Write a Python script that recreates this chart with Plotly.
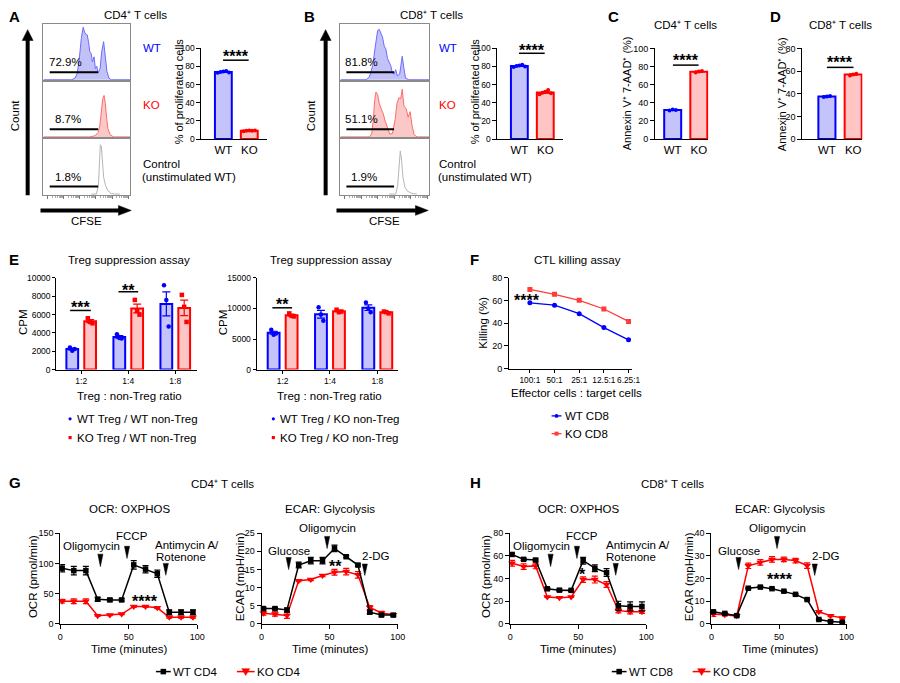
import math
import numpy as np
import plotly.graph_objects as go

W, H = 900, 683
FONT = "Liberation Sans, Arial, Helvetica, sans-serif"

# ======================= DATA =======================
# A / B : CFSE dilution histograms (x across CFSE axis 0-100, relative count)
a_wt_x = [0, 32.6, 36.4, 39, 41.3, 43.6, 45.8, 47.3, 48.9, 50.4, 51.9, 53.4, 54.9, 56.4, 58.3, 59.8,
          61.4, 62.9, 65.2, 67.1, 69.3, 71.2, 73.1, 75.4, 78, 100]
a_wt_h = [0, 0, 0.03, 0.12, 0.38, 0.74, 0.94, 0.85, 0.81, 0.8, 0.68, 0.5, 0.47, 0.32, 0.41, 0.2,
          0.24, 0.12, 0.2, 0.5, 0.68, 0.44, 0.15, 0.03, 0, 0]
a_ko_x = [0, 53.4, 59.2, 63, 64.9, 66.8, 68.3, 69.8, 71.2, 72.7, 74.2, 76.8, 80.6, 100]
a_ko_h = [0, 0, 0.02, 0.08, 0.2, 0.45, 0.68, 0.74, 0.6, 0.35, 0.15, 0.04, 0, 0]
a_ctrl_x = [55, 61, 63.3, 64.4, 65.5, 66.7, 67.8, 69.3, 71.6, 74.2, 78, 82, 88]
a_ctrl_h = [0, 0, 0.15, 0.5, 0.88, 0.85, 0.55, 0.3, 0.15, 0.06, 0.01, 0, 0]

b_wt_x = [0, 28.9, 32.6, 36.3, 39.3, 41.9, 43.7, 45.6, 47.4, 49.3, 51.1, 53, 54.8, 56.7, 58.5, 60.4,
          62.2, 64.1, 66.7, 69.6, 71.5, 73.3, 77, 100]
b_wt_h = [0, 0, 0.05, 0.25, 0.6, 0.88, 0.9, 0.82, 0.76, 0.6, 0.55, 0.38, 0.3, 0.25, 0.12, 0.1,
          0.18, 0.07, 0.1, 0.42, 0.2, 0.03, 0, 0]
b_ko_x = [0, 32.6, 35.2, 37, 38.5, 40, 41.9, 43.7, 45.9, 48.1, 50.4, 53, 55.6, 58.5, 61.5, 63.7,
          65.9, 67.8, 69.6, 71.5, 74.1, 76.3, 78.5, 80.7, 83, 86.3, 100]
b_ko_h = [0, 0, 0.05, 0.3, 0.65, 0.8, 0.75, 0.6, 0.5, 0.42, 0.28, 0.15, 0.05, 0.06, 0.3, 0.6,
          0.7, 0.68, 0.85, 0.55, 0.5, 0.35, 0.45, 0.2, 0.04, 0, 0]
b_ctrl_x = [55, 62.2, 64.4, 65.9, 67.4, 68.9, 70.4, 72.6, 75.6, 80.7, 86]
b_ctrl_h = [0, 0, 0.15, 0.55, 0.77, 0.6, 0.3, 0.12, 0.05, 0.01, 0]

a_pct = ["72.9%", "8.7%", "1.8%"]
b_pct = ["81.8%", "51.1%", "1.9%"]
hist_rows = ["WT", "KO", "Control", "(unstimulated WT)"]

# A / B : % of proliferated cells
genotypes = ["WT", "KO"]
a_prolif_wt = [73.0, 74.0, 74.5, 75.0, 73.5]
a_prolif_ko = [8.5, 9.0, 9.5, 9.0, 9.5]
b_prolif_wt = [79.5, 80.5, 81.0, 82.0, 80.0]
b_prolif_ko = [49.5, 51.0, 52.0, 54.0, 50.5]

# C / D : Annexin V+ 7-AAD+ (%)
c_annexin_wt = [31.5, 32.5, 32.0]
c_annexin_ko = [73.5, 74.5, 75.0]
d_annexin_wt = [37.0, 37.5, 38.0]
d_annexin_ko = [56.0, 57.0, 57.5]

# E : Treg suppression assay (CPM replicates per ratio)
treg_ratios = ["1:2", "1:4", "1:8"]
e1_wt = [[2400, 2050, 2250], [3850, 3450, 3400], [9200, 7600, 4700]]
e1_ko = [[5600, 5200, 5050], [7600, 6400, 6000], [8150, 6850, 5200]]
e2_wt = [[6500, 5700, 5900], [10200, 9000, 8000], [11000, 10000, 9400]]
e2_ko = [[9200, 8800, 8700], [9800, 9400, 9500], [9500, 9400, 9200]]

# F : CTL killing assay
ctl_ratios = ["100:1", "50:1", "25:1", "12.5:1", "6.25:1"]
ctl_wt = [58.0, 56.0, 48.5, 36.2, 25.4]
ctl_ko = [69.9, 65.6, 60.3, 52.6, 41.6]

# G / H : Seahorse
seahorse_time = [1.4, 9.9, 18.7, 27.3, 36.2, 44.8, 53.6, 62.2, 70.8, 79.5, 88.1, 96.8]
g_ocr_wt = [92, 88, 88, 40.6, 39.5, 39.5, 97.5, 90.4, 82.9, 19, 19, 19]
g_ocr_wt_err = [6, 7, 7, 3, 2, 2, 7, 6, 6, 4, 4, 4]
g_ocr_ko = [37.4, 37.4, 37.4, 13.5, 14.6, 16.2, 28.7, 28.7, 26.5, 10.8, 10.8, 10.8]
g_ocr_ko_err = [3, 4, 4, 1, 1, 1, 1.5, 1.5, 1.5, 1.5, 1.5, 1.5]
g_ecar_wt = [4.2, 4.2, 3.8, 16.2, 17.4, 17.4, 20.8, 18.5, 16.2, 3.2, 2.4, 2.4]
g_ecar_wt_err = [0.3, 0.3, 0.5, 0.8, 0.9, 0.9, 0.9, 0.3, 0.3, 0.4, 0.3, 0.3]
g_ecar_ko = [2.9, 2.7, 2.3, 11.9, 12.2, 13.3, 14.2, 14.4, 13.5, 4.5, 3.0, 2.5]
g_ecar_ko_err = [0.5, 0.6, 0.8, 0.3, 0.3, 0.3, 0.8, 0.9, 0.9, 0.5, 0.4, 0.3]
h_ocr_wt = [61.2, 56.9, 56.3, 30.9, 29.7, 29.5, 55.7, 49.1, 45.3, 15.9, 15.3, 15.3]
h_ocr_wt_err = [1, 1, 1, 1, 1, 1, 3, 3, 3.5, 4, 4, 4]
h_ocr_ko = [53.4, 50.5, 51.1, 23.7, 23.1, 23.7, 39.0, 39.0, 34.7, 11.6, 10.7, 10.7]
h_ocr_ko_err = [2.5, 2.5, 2.5, 0.5, 0.5, 0.5, 2.5, 3, 2.5, 2, 2, 1.5]
h_ecar_wt = [5.3, 4.6, 3.6, 15.7, 16.2, 15.5, 14.4, 13.0, 10.7, 1.9, 1.0, 0.7]
h_ecar_wt_err = [0.3, 0.3, 0.3, 0.3, 0.3, 0.3, 0.3, 0.3, 0.3, 0.3, 0.3, 0.3]
h_ecar_ko = [4.3, 4.0, 3.5, 25.6, 27.1, 28.4, 28.4, 27.9, 25.7, 5.3, 3.6, 2.6]
h_ecar_ko_err = [1.0, 0.5, 0.5, 1.2, 1.2, 1.2, 1.0, 1.0, 1.2, 0.4, 0.4, 0.4]

# ======================= STYLE =======================
BLUE, RED, BLACK = "#0000ff", "#ff0000", "#000000"
BLUE_FILL, RED_FILL = "#c4c4fa", "#ffc4c4"
H_BLUE_LINE, H_BLUE_FILL = "#6b6bff", "rgba(110,110,240,0.42)"
H_RED_LINE, H_RED_FILL = "#ff6b6b", "rgba(245,110,110,0.38)"
CTRL_LINE = "#b5b5b5"

layout = dict(width=W, height=H, margin=dict(l=0, r=0, t=0, b=0), autosize=False,
              paper_bgcolor="white", plot_bgcolor="white", showlegend=False,
              barmode="overlay", font=dict(family=FONT, size=11, color="black"))
traces, shapes, annotations = [], [], []
n_ax = [0]

# approximate Arial / Liberation Sans advance widths (1/1000 em) used to left-align texts
CW = {" ": 278, "%": 889, "(": 333, ")": 333, "-": 333, ".": 278, "/": 278, ":": 278,
      "A": 667, "C": 722, "D": 722, "K": 667, "O": 778, "R": 722, "T": 611, "W": 944,
      "a": 556, "b": 556, "c": 500, "d": 556, "e": 556, "g": 556, "h": 556, "i": 222, "l": 222,
      "m": 833, "n": 556, "o": 556, "p": 556, "r": 333, "s": 500, "t": 278, "u": 556, "y": 500}


def text_width(t, size):
    return sum(CW.get(ch, 556) for ch in t) * size / 1000.0


def add_axes(x0, x1, ytop, ybot, xopt, yopt):
    n_ax[0] += 1
    s = "" if n_ax[0] == 1 else str(n_ax[0])
    layout["xaxis" + s] = dict(domain=[x0 / W, x1 / W], anchor="y" + s, **xopt)
    layout["yaxis" + s] = dict(domain=[1 - ybot / H, 1 - ytop / H], anchor="x" + s, **yopt)
    return "x" + s, "y" + s


def ax_style(**kw):
    d = dict(type="linear", showline=True, linecolor="black", linewidth=1, ticks="outside", ticklen=4,
             tickwidth=1, tickcolor="black", showgrid=False, zeroline=False, fixedrange=True,
             tickfont=dict(family=FONT, size=9, color="black"))
    d.update(kw)
    return d


def text(t, x, y, size=11.5, anchor="center", color="black", angle=0, bold=False):
    if anchor == "left":
        x = x + text_width(t, size) / 2.0
    annotations.append(dict(text=("<b>%s</b>" % t) if bold else t, x=x / W, y=1 - y / H,
                            xref="paper", yref="paper", xanchor="center", yanchor="middle",
                            showarrow=False, textangle=angle,
                            font=dict(family=FONT, size=size, color=color)))


def stars(t, x, y, size=16):
    text(t, x, y + 3.5, size=size, bold=True)


def pline(x0, y0, x1, y1, width=1.5, color="black"):
    shapes.append(dict(type="line", xref="paper", yref="paper", x0=x0 / W, y0=1 - y0 / H,
                       x1=x1 / W, y1=1 - y1 / H, line=dict(color=color, width=width)))


def ppath(points, color="black"):
    d = "M " + " L ".join("%.5f,%.5f" % (px / W, 1 - py / H) for px, py in points) + " Z"
    shapes.append(dict(type="path", xref="paper", yref="paper", path=d, fillcolor=color,
                       line=dict(color=color, width=0.5)))


def prect(cx, cy, r, color):
    shapes.append(dict(type="rect", xref="paper", yref="paper", x0=(cx - r) / W, x1=(cx + r) / W,
                       y0=1 - (cy + r) / H, y1=1 - (cy - r) / H, fillcolor=color, line=dict(width=0)))


def pcircle(cx, cy, r, color):
    shapes.append(dict(type="circle", xref="paper", yref="paper", x0=(cx - r) / W, x1=(cx + r) / W,
                       y0=1 - (cy + r) / H, y1=1 - (cy - r) / H, fillcolor=color, line=dict(width=0)))


def wedge(x, top, tip, half=2.6):
    ppath([(x - half, top), (x + half, top), (x, tip)])


# ---------------- histogram panels (A, B) ----------------
major = [5, 23.5, 42, 60.5, 79, 97.5]
minor = [m + 18.5 * math.log10(k) for m in major[:-1] for k in range(2, 10)]


def hist_block(x0, x1, xs_list, hs_list, lines, fills, pcts, pct_x, gate_x):
    tops = [19, 77, 135]
    for i in range(3):
        top, bot = tops[i], tops[i] + 58
        xo = dict(type="linear", range=[0, 100], showline=True, mirror=True, linecolor="#8a8a8a",
                  linewidth=1, showgrid=False, zeroline=False, showticklabels=False, fixedrange=True)
        if i == 2:
            xo.update(ticks="outside", tickmode="array", tickvals=major, ticklen=3, tickcolor="#777",
                      tickwidth=1, minor=dict(ticks="outside", tickmode="array", tickvals=minor,
                                              ticklen=1.5, tickcolor="#aaa", tickwidth=1))
        else:
            xo.update(ticks="")
        yo = dict(type="linear", range=[-0.02, 1.0], showline=True, mirror=True, linecolor="#8a8a8a",
                  linewidth=1, showgrid=False, zeroline=False, showticklabels=False, ticks="",
                  fixedrange=True)
        xr, yr = add_axes(x0, x1, top, bot, xo, yo)
        traces.append(go.Scatter(x=xs_list[i], y=hs_list[i], xaxis=xr, yaxis=yr, mode="lines",
                                 line=dict(color=lines[i], width=1),
                                 fill="tozeroy" if fills[i] else None, fillcolor=fills[i],
                                 hoverinfo="skip"))
        shapes.append(dict(type="line", xref=xr, yref=yr, x0=gate_x[0], x1=gate_x[1], y0=0.135,
                           y1=0.135, line=dict(color="black", width=2)))
        px_left = x0 + pct_x[i] / 100.0 * (x1 - x0)
        text(pcts[i], px_left, top + 58 * (1 - 0.325), anchor="left")


hist_block(41, 129, [a_wt_x, a_ko_x, a_ctrl_x], [a_wt_h, a_ko_h, a_ctrl_h],
           [H_BLUE_LINE, H_RED_LINE, CTRL_LINE], [H_BLUE_FILL, H_RED_FILL, None],
           a_pct, [7, 13.6, 13.6], [7.2, 63])
hist_block(342, 432, [b_wt_x, b_ko_x, b_ctrl_x], [b_wt_h, b_ko_h, b_ctrl_h],
           [H_BLUE_LINE, H_RED_LINE, CTRL_LINE], [H_BLUE_FILL, H_RED_FILL, None],
           b_pct, [6, 6, 12.2], [6.7, 60.4])

# ---------------- bar + dots panels ----------------
JIT = {3: [-0.12, 0, 0.12], 5: [-0.22, -0.11, 0, 0.11, 0.22]}


def bar_panel(x0, x1, ytop, ybot, xrange, yrange, dtick, reps, yfont=8.5, width=0.65):
    xr, yr = add_axes(x0, x1, ytop, ybot,
                      ax_style(range=xrange, tickmode="array", tickvals=[0, 1], ticktext=genotypes,
                               ticks="", tickfont=dict(family=FONT, size=11.5, color="black")),
                      ax_style(range=yrange, dtick=dtick, tickfont=dict(family=FONT, size=yfont, color="black")))
    for i, vals in enumerate(reps):
        line = BLUE if i == 0 else RED
        fill = BLUE_FILL if i == 0 else RED_FILL
        m = float(np.mean(vals))
        se = float(np.std(vals, ddof=1) / np.sqrt(len(vals)))
        traces.append(go.Bar(x=[i], y=[m], width=width, xaxis=xr, yaxis=yr,
                             marker=dict(color=fill, line=dict(color=line, width=2)),
                             error_y=dict(type="data", array=[se], color=line, thickness=1.5, width=4),
                             hoverinfo="skip"))
        traces.append(go.Scatter(x=[i + o for o in JIT[len(vals)]], y=vals, xaxis=xr, yaxis=yr,
                                 mode="markers", marker=dict(color=line, size=4), cliponaxis=False,
                                 hoverinfo="skip"))
    return xr, yr


bar_panel(201, 268, 44, 136, [-0.85, 1.7], [0, 100], 20, [a_prolif_wt, a_prolif_ko])
bar_panel(501, 568, 44, 136, [-0.85, 1.7], [0, 100], 20, [b_prolif_wt, b_prolif_ko])
bar_panel(661, 715, 44, 136, [-0.67, 1.37], [0, 100], 20, [c_annexin_wt, c_annexin_ko], yfont=9)
bar_panel(810, 871, 44, 136, [-0.94, 1.35], [0, 80], 20, [d_annexin_wt, d_annexin_ko], yfont=9)

# ---------------- E : Treg suppression ----------------


def treg_panel(x0, x1, xrange, yrange, dtick, wt, ko):
    xr, yr = add_axes(x0, x1, 277, 370,
                      ax_style(range=xrange, tickmode="array", tickvals=[0, 1, 2], ticktext=treg_ratios,
                               ticklen=3, tickfont=dict(family=FONT, size=8.5, color="black")),
                      ax_style(range=yrange, dtick=dtick, tickformat="d", ticklen=3,
                               tickfont=dict(family=FONT, size=8.5, color="black")))
    for grp, off, line, fill, sym in ((wt, -0.19, BLUE, BLUE_FILL, "circle"),
                                      (ko, 0.19, RED, RED_FILL, "square")):
        xs = [i + off for i in range(len(treg_ratios))]
        means = [float(np.mean(v)) for v in grp]
        sems = [float(np.std(v, ddof=1) / np.sqrt(len(v))) for v in grp]
        traces.append(go.Bar(x=xs, y=means, width=0.25, xaxis=xr, yaxis=yr,
                             marker=dict(color=fill, line=dict(color=line, width=2)),
                             error_y=dict(type="data", array=sems, color=line, thickness=1.2, width=4),
                             hoverinfo="skip"))
        px, py = [], []
        for i, v in enumerate(grp):
            for j, val in enumerate(v):
                px.append(i + off + [-0.05, 0, 0.05][j])
                py.append(val)
        traces.append(go.Scatter(x=px, y=py, xaxis=xr, yaxis=yr, mode="markers",
                                 marker=dict(color=line, size=4.5, symbol=sym), cliponaxis=False,
                                 hoverinfo="skip"))


treg_panel(54, 197, [-0.53, 2.47], [0, 10000], 2000, e1_wt, e1_ko)
treg_panel(257, 400, [-0.55, 2.43], [0, 15000], 5000, e2_wt, e2_ko)

# ---------------- F : CTL killing ----------------
xr, yr = add_axes(513, 637, 277, 369,
                  ax_style(range=[-0.84, 4.12], tickmode="array", tickvals=list(range(5)),
                           ticktext=ctl_ratios, ticklen=3, tickangle=0,
                           tickfont=dict(family=FONT, size=8.3, color="black")),
                  ax_style(range=[0, 80], dtick=20))
traces.append(go.Scatter(x=list(range(5)), y=ctl_ko, xaxis=xr, yaxis=yr, mode="lines+markers",
                         line=dict(color="#ff3b3b", width=1.3),
                         marker=dict(color="#ff3b3b", size=5, symbol="square"), hoverinfo="skip"))
traces.append(go.Scatter(x=list(range(5)), y=ctl_wt, xaxis=xr, yaxis=yr, mode="lines+markers",
                         line=dict(color=BLUE, width=1.3),
                         marker=dict(color=BLUE, size=5, symbol="circle"), hoverinfo="skip"))

# ---------------- G / H : Seahorse ----------------


def seahorse(x0, x1, yrange, dtick, wt, wt_err, ko, ko_err):
    xr, yr = add_axes(x0, x1, 536, 628,
                      ax_style(range=[0, 100], dtick=50),
                      ax_style(range=yrange, dtick=dtick))
    traces.append(go.Scatter(x=seahorse_time, y=ko, xaxis=xr, yaxis=yr, mode="lines+markers",
                             line=dict(color=RED, width=1.5),
                             marker=dict(color=RED, size=7, symbol="triangle-down"),
                             error_y=dict(type="data", array=ko_err, color=RED, thickness=1.2, width=3),
                             cliponaxis=False, hoverinfo="skip"))
    traces.append(go.Scatter(x=seahorse_time, y=wt, xaxis=xr, yaxis=yr, mode="lines+markers",
                             line=dict(color=BLACK, width=1.5),
                             marker=dict(color=BLACK, size=5.5, symbol="square"),
                             error_y=dict(type="data", array=wt_err, color=BLACK, thickness=1.2, width=3),
                             cliponaxis=False, hoverinfo="skip"))


seahorse(58, 197, [0, 150], 50, g_ocr_wt, g_ocr_wt_err, g_ocr_ko, g_ocr_ko_err)
seahorse(262, 400, [0, 25], 5, g_ecar_wt, g_ecar_wt_err, g_ecar_ko, g_ecar_ko_err)
seahorse(514, 652, [0, 80], 20, h_ocr_wt, h_ocr_wt_err, h_ocr_ko, h_ocr_ko_err)
seahorse(718, 855, [0, 40], 10, h_ecar_wt, h_ecar_wt_err, h_ecar_ko, h_ecar_ko_err)

# ======================= TEXT / DECORATION =======================
for t, x, y in (("A", 12, 12), ("B", 311, 12), ("C", 619, 12), ("D", 783, 12), ("E", 11, 258),
                ("F", 478, 258), ("G", 12, 485), ("H", 479, 485)):
    text(t, x, y, size=15, bold=True)

CD4_T = "CD4\u207a T cells"
CD8_T = "CD8\u207a T cells"
ANNEXIN = "Annexin V\u207a 7-AAD\u207a (%)"

# A / B
for dx, title in ((0, CD4_T), (300, CD8_T)):
    text(title, 134 + dx, 10)
    text(hist_rows[0], 142 + dx, 44, anchor="left", color=BLUE)
    text(hist_rows[1], 142 + dx, 101, anchor="left", color=RED)
    text(hist_rows[2], 142 + dx, 161, anchor="left")
    text(hist_rows[3], 142 + dx, 175, anchor="left")
    text("% of proliferated cells", 178 + dx, 88, size=11, angle=-90)
    text("Count", 13 + dx, 112, angle=-90)
for cx in (25, 327):
    pline(cx, 193, cx, 34, width=4)
    ppath([(cx - 5.5, 36), (cx + 5.5, 36), (cx, 25)])
for x0, x1 in ((38, 118), (338, 419)):
    pline(x0, 208.5, x1, 208.5, width=4)
    ppath([(x1 - 1, 203.5), (x1 - 1, 213.5), (x1 + 12, 208.5)])
text("CFSE", 85, 219)
text("CFSE", 387, 219)
pline(223, 56, 249, 56)
stars("****", 236, 49)
pline(523, 49, 549, 49)
stars("****", 536, 43)

# C / D
text(CD4_T, 692, 20)
text(CD8_T, 849, 20)
text(ANNEXIN, 632, 90, size=11, angle=-90)
text(ANNEXIN, 789, 90, size=11, angle=-90)
pline(679, 61, 705, 61)
stars("****", 692, 53)
pline(835, 63.3, 862, 63.3)
stars("****", 848, 55)

# E
text("Treg suppression assay", 128, 259)
text("Treg suppression assay", 332, 259)
text("CPM", 21, 322, angle=-90)
text("CPM", 223, 322, angle=-90)
text("Treg : non-Treg ratio", 128, 397)
text("Treg : non-Treg ratio", 331, 397)
pline(68, 310, 89, 310)
stars("***", 78.5, 303)
pline(117, 291, 137, 291)
stars("**", 127, 286.7)
pline(273, 307.3, 293, 307.3)
stars("**", 283, 300.7)
for dx, lab in ((0, "WT"), (206, "KO")):
    pcircle(68 + dx, 420, 1.6, BLUE)
    prect(68 + dx, 439, 1.6, RED)
    text("WT Treg / %s non-Treg" % lab, 75 + dx, 420, anchor="left")
    text("KO Treg / %s non-Treg" % lab, 75 + dx, 439, anchor="left")

# F
text("CTL killing assay", 582, 259)
text("Killing (%)", 487, 323, angle=-90)
text("Effector cells : target cells", 581, 394)
stars("****", 531, 296)
pline(556, 417, 566, 417, width=1.3, color=BLUE)
pcircle(561, 417, 2, BLUE)
text("WT CD8", 570, 417, anchor="left")
pline(556, 435, 566, 435, width=1.3, color="#ff3b3b")
prect(561, 435, 2, "#ff3b3b")
text("KO CD8", 570, 435, anchor="left")

# G / H
text(CD4_T, 222, 486)
text(CD8_T, 679, 486)
for cx_ocr, cx_ecar in ((128, 331), (583, 787)):
    text("OCR: OXPHOS", cx_ocr, 511)
    text("ECAR: Glycolysis", cx_ecar, 511)
    text("Time (minutes)", cx_ocr, 654)
    text("Time (minutes)", cx_ecar, 654)
text("OCR (pmol/min)", 30, 580, angle=-90)
text("ECAR (mpH/min)", 240, 580, angle=-90)
text("OCR (pmol/min)", 489, 580, angle=-90)
text("ECAR (mpH/min)", 695, 580, angle=-90)

for dx, olig, fccp, anti in ((0, (89.5, 98.7), (131, 125.7), (155, 165)),
                             (456, (89.3, 99), (131, 125.7), (155.7, 165))):
    text("Oligomycin", olig[0] + dx, 549.3)
    wedge(olig[1] + dx, 557.3, 570)
    text("FCCP", fccp[0] + dx, 539.3)
    wedge(fccp[1] + dx, 549.3, 561.7)
    text("Antimycin A/", anti[0] + dx, 547.7, anchor="left")
    text("Rotenone", anti[0] + dx, 560.7, anchor="left")
    wedge(anti[1] + dx, 566.7, 578.8)
for dx in (0, 456):
    text("Glucose", 290 + dx, 554)
    wedge(289.5 + dx, 560.7, 573)
    text("Oligomycin", 329 + dx, 531)
    wedge(328.5 + dx, 539.3, 551.7)
    text("2-DG", 378 + dx, 559.3)
    wedge(366.7 + dx, 567.3, 579)
stars("****", 143.7, 601.7)
stars("**", 336.7, 566.7)
stars("*", 587.7, 574)
stars("****", 787, 579.3)

for dx, cell in ((0, "CD4"), (462, "CD8")):
    pline(155 + dx, 676.5, 170 + dx, 676.5, width=1.5)
    prect(162.5 + dx, 676.5, 2.8, BLACK)
    text("WT " + cell, 173 + dx, 676.5, anchor="left")
    pline(237 + dx, 676.5, 255 + dx, 676.5, width=1.5, color=RED)
    ppath([(242 + dx, 673.5), (250 + dx, 673.5), (246 + dx, 680.5)], color=RED)
    text("KO " + cell, 258 + dx, 676.5, anchor="left")

layout["shapes"] = shapes
layout["annotations"] = annotations
fig = go.Figure(data=traces)
fig.update_layout(**layout)
fig.write_html("out.html")
